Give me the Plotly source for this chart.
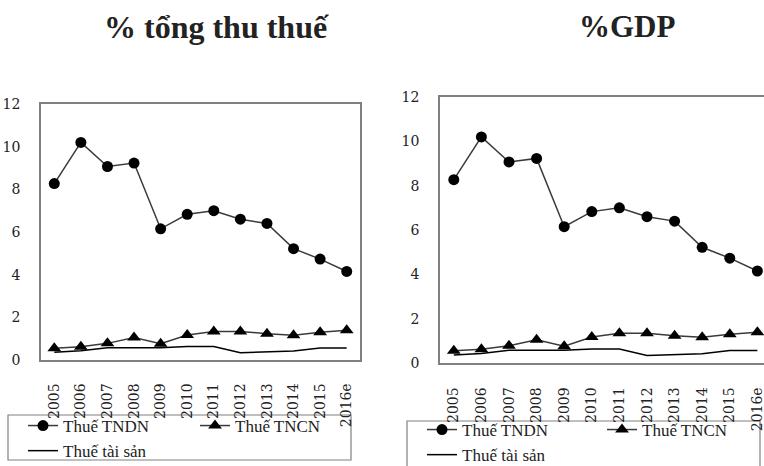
import plotly.graph_objects as go

years = ["2005", "2006", "2007", "2008", "2009", "2010", "2011", "2012", "2013", "2014", "2015", "2016e"]
thue_tndn = [8.27, 10.2, 9.07, 9.23, 6.15, 6.83, 7.0, 6.6, 6.4, 5.22, 4.73, 4.15]
thue_tncn = [0.55, 0.62, 0.78, 1.05, 0.76, 1.17, 1.34, 1.34, 1.23, 1.16, 1.3, 1.39]
thue_tai_san = [0.36, 0.43, 0.57, 0.57, 0.57, 0.63, 0.63, 0.34, 0.39, 0.42, 0.56, 0.56]

names = ["Thuế TNDN", "Thuế TNCN", "Thuế tài sản"]
titles = ["% tổng thu thuế", "%GDP"]

W, H = 764, 466
SERIF = "Liberation Serif"
TICKFONT = "DejaVu Serif"

def px(x):
    return x / W

def py(y):
    return 1 - y / H

fig = go.Figure()

for i, (xa, ya, lg) in enumerate([("x", "y", "legend"), ("x2", "y2", "legend2")]):
    fig.add_trace(go.Scatter(
        x=years, y=thue_tndn, name=names[0], mode="lines+markers",
        line=dict(color="#3a3a3a", width=1.5),
        marker=dict(symbol="circle", size=11, color="black"),
        xaxis=xa, yaxis=ya, legend=lg, legendgroup="a", cliponaxis=False))
    fig.add_trace(go.Scatter(
        x=years, y=thue_tncn, name=names[1], mode="lines+markers",
        line=dict(color="#3a3a3a", width=1.5),
        marker=dict(symbol="triangle-up", size=12, color="black"),
        xaxis=xa, yaxis=ya, legend=lg, legendgroup="b", cliponaxis=False))
    fig.add_trace(go.Scatter(
        x=years, y=thue_tai_san, name=names[2], mode="lines",
        line=dict(color="black", width=1.5),
        xaxis=xa, yaxis=ya, legend=lg, legendgroup="a", cliponaxis=False))

axis_common = dict(showline=True, mirror=True, linecolor="#808080", linewidth=1.5,
                   showgrid=False, zeroline=False, ticks="", automargin=False,
                   tickfont=dict(family=TICKFONT, size=14, color="#222"))

fig.update_layout(
    template="none",
    width=W, height=H, autosize=False,
    margin=dict(l=0, r=0, t=0, b=0, pad=0, autoexpand=False),
    paper_bgcolor="white", plot_bgcolor="white",
    font=dict(family=SERIF, color="#222"),
    xaxis=dict(domain=[px(41), px(360)], type="category", range=[-0.5, 11.5],
               tickangle=-90, ticklabelstandoff=16, anchor="y", **axis_common),
    yaxis=dict(domain=[py(360), py(104)], range=[0, 12], dtick=2,
               ticklabelstandoff=16, anchor="x", **axis_common),
    xaxis2=dict(domain=[px(440), 1.0], type="category", range=[-0.5, 11.24],
                tickangle=-90, ticklabelstandoff=17, anchor="y2", **axis_common),
    yaxis2=dict(domain=[py(363), py(97)], range=[0, 12], dtick=2,
                ticklabelstandoff=16, anchor="x2", **axis_common),
    legend=dict(orientation="h", traceorder="grouped", entrywidth=127,
                x=px(23), xanchor="left", y=py(408), yanchor="top",
                bgcolor="rgba(0,0,0,0)", borderwidth=0,
                font=dict(family=SERIF, size=17, color="#222")),
    legend2=dict(orientation="h", traceorder="grouped", entrywidth=135,
                 x=px(422), xanchor="left", y=py(412), yanchor="top",
                 bgcolor="rgba(0,0,0,0)", borderwidth=0,
                 font=dict(family=SERIF, size=17, color="#222")),
    showlegend=True,
    annotations=[
        dict(text="<b>" + titles[0] + "</b>", x=px(216), y=py(27), xref="paper", yref="paper",
             showarrow=False, font=dict(family=SERIF, size=32, color="#222"),
             xanchor="center", yanchor="middle"),
        dict(text="<b>" + titles[1] + "</b>", x=px(627), y=py(27), xref="paper", yref="paper",
             showarrow=False, font=dict(family=SERIF, size=31, color="#222"),
             xanchor="center", yanchor="middle"),
    ],
    shapes=[
        dict(type="rect", xref="paper", yref="paper", x0=px(8), x1=px(351), y0=py(460), y1=py(415),
             line=dict(color="#808080", width=1.2), layer="below"),
        dict(type="rect", xref="paper", yref="paper", x0=px(407), x1=px(760), y0=py(475), y1=py(421),
             line=dict(color="#808080", width=1.2), layer="below"),
    ],
)

fig.write_html("out.html")
